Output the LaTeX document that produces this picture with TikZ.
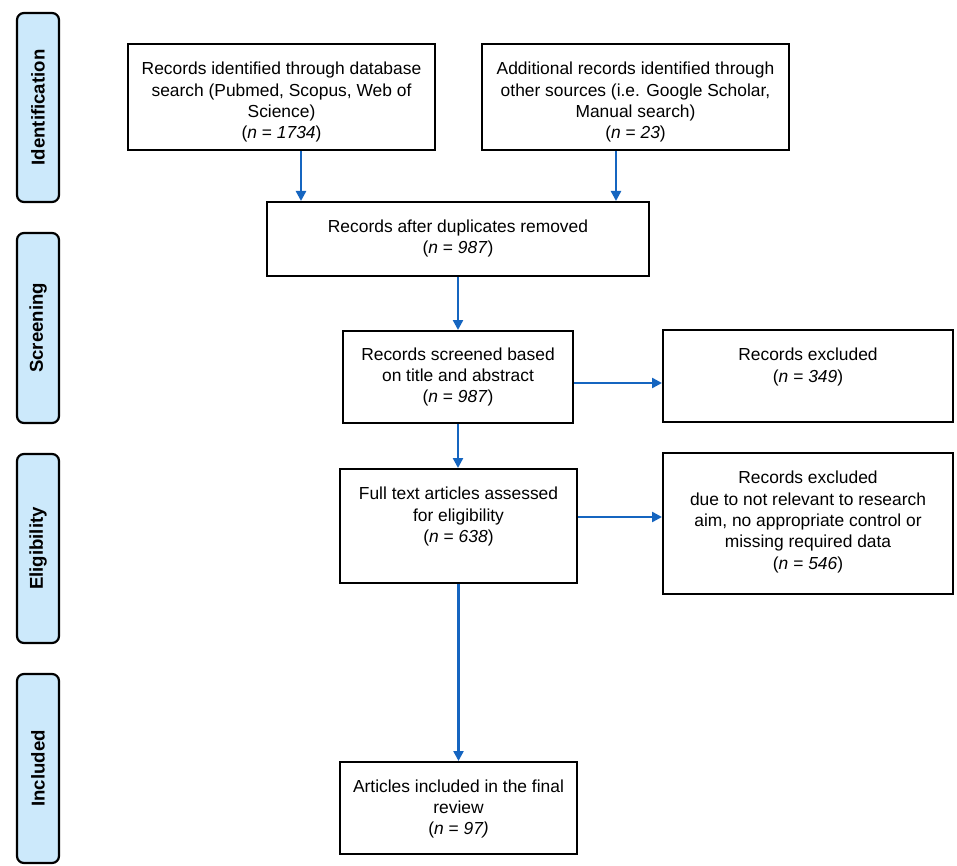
\documentclass[tikz,border=0pt]{standalone}
\usepackage{fontspec}
\setmainfont{Liberation Sans}
\usetikzlibrary{arrows.meta}
\definecolor{arrowblue}{RGB}{21,101,192}
\definecolor{labelfill}{RGB}{204,233,251}
\begin{document}
\begin{tikzpicture}[x=1pt,y=-1pt,
  box/.style={draw=black, line width=2pt, inner sep=0pt},
  boxtext/.style={anchor=north, inner sep=0pt, align=center, font=\fontsize{17.4}{21.4}\selectfont},
  side/.style={draw=black, line width=2.2pt, fill=labelfill, rounded corners=7pt, inner sep=0pt},
  sidetext/.style={rotate=90, font=\fontsize{18.6}{21}\selectfont\bfseries, inner sep=0pt},
  arr/.style={draw=arrowblue, line width=2.4pt, -{Triangle[length=10pt,width=10pt]}}
]
\useasboundingbox[fill=white] (0,0) rectangle (957,866);

% side labels
\node[side, minimum width=42pt, minimum height=189pt] (sid) at (38,107.5) {};
\node[sidetext] (sidt) at (sid) {Identification};
\node[side, minimum width=42pt, minimum height=190pt] (sscr) at (38,328) {};
\node[sidetext] (sscrt) at (sscr) {Screening};
\node[side, minimum width=42pt, minimum height=189pt] (selig) at (38,548.5) {};
\node[sidetext] (seligt) at (selig) {Eligibility};
\node[side, minimum width=42pt, minimum height=189pt] (sinc) at (38,768.5) {};
\node[sidetext] (sinct) at (sinc) {Included};

% boxes
\node[box, minimum width=307pt, minimum height=106pt] (A) at (281.5,97) {};
\node[box, minimum width=307pt, minimum height=106pt] (B) at (635.5,97) {};
\node[box, minimum width=382pt, minimum height=74pt] (C) at (458,239) {};
\node[box, minimum width=230pt, minimum height=92pt] (D) at (458,377) {};
\node[box, minimum width=237pt, minimum height=114pt] (E) at (458.5,526) {};
\node[box, minimum width=290pt, minimum height=92pt] (F) at (808,376) {};
\node[box, minimum width=290pt, minimum height=141pt] (G) at (808,523.5) {};
\node[box, minimum width=237pt, minimum height=92pt] (H) at (458.5,808) {};

% texts
\node[boxtext] (At) at ([yshift=-16.5pt]A.north) {\strut Records identified through database\\ search (Pubmed, Scopus, Web of\\ Science)\\ (\textit{n} = \textit{1734})};
\node[boxtext] (Bt) at ([yshift=-16.5pt]B.north) {\strut Additional records identified through\\ other sources (i.e. Google Scholar,\\ Manual search)\\ (\textit{n} = \textit{23})};
\node[boxtext] (Ct) at ([yshift=-16pt]C.north) {\strut Records after duplicates removed\\ (\textit{n} = \textit{987})};
\node[boxtext] (Dt) at ([yshift=-15pt]D.north) {\strut Records screened based\\ on title and abstract\\ (\textit{n} = \textit{987})};
\node[boxtext] (Et) at ([yshift=-16.5pt]E.north) {\strut Full text articles assessed\\ for eligibility\\ (\textit{n} = \textit{638})};
\node[boxtext] (Ft) at ([yshift=-16.5pt]F.north) {\strut Records excluded\\ (\textit{n} = \textit{349})};
\node[boxtext] (Gt) at ([yshift=-16.5pt]G.north) {\strut Records excluded\\ due to not relevant to research\\ aim, no appropriate control or\\ missing required data\\ (\textit{n} = \textit{546})};
\node[boxtext] (Ht) at ([yshift=-16pt]H.north) {\strut Articles included in the final\\ review\\ (\textit{n} = \textit{97)}};

% connectors
\coordinate (xa) at (301,0);
\coordinate (xb) at (616,0);
\coordinate (yf) at (0,383);
\coordinate (yg) at (0,517);
\draw[arr] (A.south -| xa) -- (C.north -| xa);
\draw[arr] (B.south -| xb) -- (C.north -| xb);
\draw[arr] (C.south) -- (D.north);
\draw[arr] (D.south) -- (D.south |- E.north);
\draw[arr] (E.south) -- (H.north);
\draw[arr] (D.east |- yf) -- (F.west |- yf);
\draw[arr] (E.east |- yg) -- (G.west |- yg);
\end{tikzpicture}
\end{document}
